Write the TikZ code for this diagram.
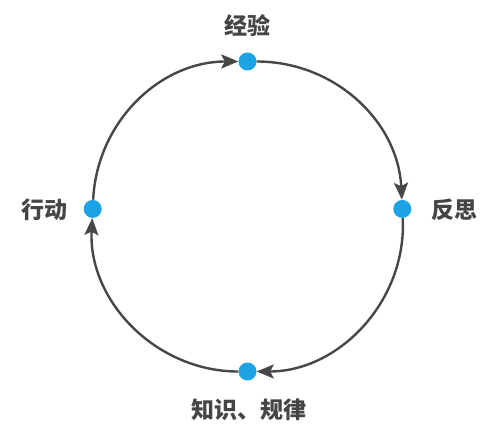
\documentclass[tikz,border=0pt]{standalone}
\usepackage{fontspec}
\newfontfamily\cjk{Noto Sans CJK SC}
\usetikzlibrary{arrows.meta, calc}
\definecolor{dotblue}{HTML}{1CA3E6}
\definecolor{linegray}{HTML}{474747}
\definecolor{textgray}{HTML}{454545}
\begin{document}
\begin{tikzpicture}[
        x=1pt, y=1pt,
        >={Stealth[length=17pt, width=14pt, inset=3.5pt]},
        dot/.style={circle, fill=dotblue, inner sep=0pt, minimum size=18pt},
        lbl/.style={text=textgray, font=\cjk\bfseries\fontsize{23}{27}\selectfont},
        flow/.style={->, linegray, line width=2.4pt}
    ]
    \useasboundingbox (0,0) rectangle (500,434);
    % 圆心与半径
    \coordinate (C) at (247.5,217.5);

    % 四个蓝点
    \node[dot] (jingyan) at ($(C)+(90:155)$) {};
    \node[dot] (fansi) at ($(C)+(2.8:155)$) {};
    \node[dot] (zhishi) at ($(C)+(270:155)$) {};
    \node[dot] (xingdong) at ($(C)+(177.2:155)$) {};

    % 文字
    \node[lbl] (t1) at (247,408) {经验};
    \node[lbl] (t2) at (454,224) {反思};
    \node[lbl] (t3) at (249,24) {知识、规律};
    \node[lbl] (t4) at (44,224) {行动};

    % 顺时针的四段圆弧
    \draw[flow] (jingyan) to[bend left=43.6] (fansi);
    \draw[flow] (fansi) to[bend left=46.4] (zhishi);
    \draw[flow] (zhishi) to[bend left=46.4] (xingdong);
    \draw[flow] (xingdong) to[bend left=43.6] (jingyan);
\end{tikzpicture}
\end{document}
